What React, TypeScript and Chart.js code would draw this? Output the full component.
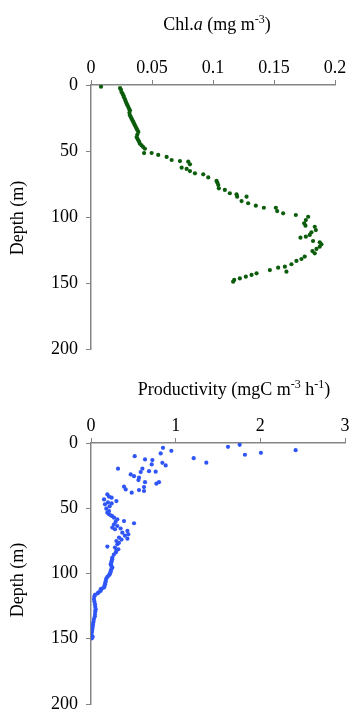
import React, { useEffect, useRef } from "react";
import { Chart, registerables } from "chart.js";

Chart.register(...registerables);

// ---------- Data: Chl.a profile ----------
const chlValues: number[] = [
  0.0082, 0.0238, 0.0245, 0.025, 0.0258, 0.0265, 0.027, 0.0279, 0.0285, 0.0292, 0.0299, 0.0306,
  0.0312, 0.0319, 0.0315, 0.0319, 0.0326, 0.0333, 0.034, 0.0347, 0.0353, 0.036, 0.0367, 0.0374,
  0.0381, 0.0388, 0.038, 0.0374, 0.038, 0.0388, 0.0395, 0.0401, 0.0415, 0.0428, 0.0442, 0.0435,
  0.0497, 0.0551, 0.062, 0.0661, 0.0729, 0.0797, 0.0811, 0.0743, 0.0784, 0.0811, 0.0852, 0.092,
  0.0961, 0.1029, 0.1036, 0.1043, 0.1048, 0.1097, 0.1138, 0.1193, 0.1198, 0.1275, 0.1234, 0.1288,
  0.1351, 0.1417, 0.1515, 0.1526, 0.1575, 0.1679, 0.178, 0.1761, 0.1747, 0.1758, 0.1834, 0.1843,
  0.1807, 0.1793, 0.1761, 0.1717, 0.182, 0.1875, 0.1889, 0.1875, 0.1848, 0.1815, 0.1834, 0.1752,
  0.1725, 0.1684, 0.1643, 0.1589, 0.1602, 0.1534, 0.1466, 0.1357, 0.1316, 0.1269, 0.122, 0.1174,
  0.1165,
];
const chlDepths: number[] = [
  1.3, 2.3, 3.5, 5.3, 6.5, 7.8, 9.2, 10.9, 12.5, 14.1, 15.4, 16.7,
  18, 19.2, 21, 23, 24.2, 25.5, 26.8, 28, 29.2, 30.5, 31.8, 33.1,
  34.3, 35.6, 37.5, 39.4, 40.6, 41.9, 43.2, 44.5, 45.8, 47, 48.3, 51.6,
  51.5, 53, 54.5, 56.8, 57.6, 58.1, 60.1, 62.6, 63.6, 65.2, 66.9, 67.7,
  70, 72.7, 74, 75.8, 78.3, 79.5, 82, 82.8, 84.6, 84.6, 87.9, 89.6,
  91.4, 93, 93, 95.5, 97.2, 98.5, 99.8, 102.3, 104.8, 106.6, 107.4, 109.9,
  111.6, 113.6, 114.9, 115.7, 118.2, 119.2, 120.7, 122.5, 124.2, 125.8, 127.5, 130,
  131.8, 133.3, 135.8, 137.6, 141.4, 138.4, 140.2, 142.7, 143.9, 145.2, 146.5, 147.7,
  149,
];

// ---------- Data: Productivity profile ----------
const prodValues: number[] = [
  0.949, 1.213, 1.362, 1.618, 1.756, 1.818, 2.007, 2.417,
  0.85, 0.823, 0.516, 0.638, 0.725, 0.717, 0.843, 0.882, 0.319, 0.607, 0.685, 0.764, 0.587, 0.469,
  0.508, 0.567, 0.56, 0.638, 0.803, 0.772, 0.39, 0.41, 0.626, 0.567, 0.626, 0.481,
  0.193, 0.213, 0.244, 0.154, 0.3, 0.244, 0.165, 0.181, 0.213, 0.193, 0.233, 0.272, 0.311, 0.39,
  0.508, 0.311, 0.252, 0.283, 0.43, 0.37, 0.441, 0.331, 0.43, 0.3, 0.311, 0.193, 0.283, 0.323,
  0.292, 0.252, 0.244, 0.233, 0.252, 0.233, 0.221, 0.193, 0.174, 0.165, 0.154, 0.115, 0.115, 0.076,
  0.047, 0.035, 0.047, 0.055, 0.047, 0.035, 0.024, 0.017, 0.008, 0.0, 0.01,
  0.3, 0.27, 0.25, 0.24, 0.24, 0.24, 0.23, 0.21, 0.18, 0.17, 0.16, 0.13, 0.09, 0.04, 0.04, 0.05,
  0.05, 0.045, 0.03, 0.02, 0.012, 0.005, 0.02,
  0.2, 0.22, 0.21, 0.25, 0.29, 0.27, 0.35, 0.4, 0.36, 0.33,
];
const prodDepths: number[] = [
  6.0, 11.6, 15.1, 2.9, 1.4, 9.0, 7.5, 5.5,
  3.7, 8.0, 10.1, 12.6, 13.1, 16.4, 15.2, 17.2, 19.7, 19.7, 21.6, 22.0, 22.3, 24.1,
  25.4, 26.6, 28.4, 30.0, 30.0, 31.2, 33.5, 35.6, 33.8, 36.1, 36.8, 38.1,
  39.4, 41.1, 41.9, 43.2, 44.5, 46.3, 47.0, 50.3, 52.1, 53.4, 55.4, 57.2, 58.5, 59.8,
  61.5, 63.6, 64.8, 66.1, 67.4, 68.7, 70.0, 72.5, 73.3, 75.1, 77.6, 79.4, 80.1, 81.4,
  83.9, 87.8, 90.4, 92.9, 95.4, 98.0, 100.5, 102.6, 105.7, 108.2, 110.7, 112.0, 113.3, 115.3,
  116.3, 119.6, 123.5, 127.3, 131.1, 134.9, 138.8, 142.6, 145.1, 147.7, 149.7,
  82.5, 85.5, 89, 91.5, 94, 96.7, 99.2, 101.5, 104, 107, 109.5, 111.5, 114.5, 117.5, 121.5, 125.5,
  129, 133, 137, 140.7, 144, 146.5, 148.5,
  45.5, 48.5, 54.5, 56, 60.5, 62.5, 65.5, 71, 74, 76.5,
];

// ---------- Tick labels ----------
const depthTicks: number[] = [0, 50, 100, 150, 200];
const depthTickLabels: string[] = ["0", "50", "100", "150", "200"];
const chlTicks: number[] = [0, 0.05, 0.1, 0.15, 0.2];
const chlTickLabels: string[] = ["0", "0.05", "0.1", "0.15", "0.2"];
const prodTicks: number[] = [0, 1, 2, 3];
const prodTickLabels: string[] = ["0", "1", "2", "3"];

const FONT = '"Liberation Serif", "Times New Roman", serif';

type Part = { t: string; italic?: boolean; sup?: boolean };

function titlePlugin(id: string, parts: Part[], cx: number, cy: number, yTitle: string, yx: number, yy: number) {
  return {
    id,
    afterDraw(chart: any) {
      const ctx: CanvasRenderingContext2D = chart.ctx;
      ctx.save();
      ctx.fillStyle = "#000";
      ctx.textBaseline = "alphabetic";
      const fontFor = (p: Part) => `${p.italic ? "italic " : ""}${p.sup ? 12 : 18}px ${FONT}`;
      let total = 0;
      const widths = parts.map((p) => {
        ctx.font = fontFor(p);
        const w = ctx.measureText(p.t).width;
        total += w;
        return w;
      });
      let x = cx - total / 2;
      const base = cy + 6;
      parts.forEach((p, i) => {
        ctx.font = fontFor(p);
        ctx.textAlign = "left";
        ctx.fillText(p.t, x, p.sup ? base - 7 : base);
        x += widths[i];
      });
      // y-axis title
      ctx.translate(yx, yy);
      ctx.rotate(-Math.PI / 2);
      ctx.font = `18px ${FONT}`;
      ctx.textAlign = "center";
      ctx.textBaseline = "middle";
      ctx.fillText(yTitle, 0, 0);
      ctx.restore();
    },
  };
}

function makeConfig(
  values: number[],
  depths: number[],
  color: string,
  xMax: number,
  xTicks: number[],
  xLabels: string[],
  xHeight: number,
  yWidth: number,
  padding: any,
  plugin: any
): any {
  const axisColor = "#858585";
  return {
    type: "scatter",
    data: {
      datasets: [
        {
          data: values.map((v, i) => ({ x: v, y: depths[i] })),
          backgroundColor: color,
          borderColor: color,
          borderWidth: 0,
          pointRadius: 2.1,
          pointHoverRadius: 2.1,
        },
      ],
    },
    options: {
      responsive: false,
      animation: false,
      devicePixelRatio: 1,
      layout: { padding },
      plugins: { legend: { display: false }, tooltip: { enabled: false }, title: { display: false } },
      scales: {
        x: {
          type: "linear",
          position: "top",
          min: 0,
          max: xMax,
          afterBuildTicks: (scale: any) => {
            scale.ticks = xTicks.map((v) => ({ value: v }));
          },
          afterFit: (scale: any) => {
            scale.height = xHeight;
          },
          ticks: {
            callback: (v: number) => {
              const i = xTicks.findIndex((t) => Math.abs(t - v) < 1e-9);
              return i >= 0 ? xLabels[i] : "";
            },
            font: { family: FONT, size: 18 },
            color: "#000",
            padding: 1,
            maxRotation: 0,
            autoSkip: false,
          },
          grid: { display: true, drawOnChartArea: false, drawTicks: true, tickLength: 5, color: axisColor, lineWidth: 1 },
          border: { display: true, color: axisColor, width: 1.5 },
        },
        y: {
          type: "linear",
          position: "left",
          reverse: true,
          min: 0,
          max: 200,
          afterBuildTicks: (scale: any) => {
            scale.ticks = depthTicks.map((v) => ({ value: v }));
          },
          afterFit: (scale: any) => {
            scale.width = yWidth;
          },
          ticks: {
            callback: (v: number) => {
              const i = depthTicks.findIndex((t) => Math.abs(t - v) < 1e-9);
              return i >= 0 ? depthTickLabels[i] : "";
            },
            font: { family: FONT, size: 18 },
            color: "#000",
            padding: 8,
            autoSkip: false,
          },
          grid: { display: true, drawOnChartArea: false, drawTicks: true, tickLength: 5, color: axisColor, lineWidth: 1 },
          border: { display: true, color: axisColor, width: 1.5 },
        },
      },
    },
    plugins: [plugin],
  };
}

export default function App() {
  const topRef = useRef<HTMLCanvasElement>(null);
  const botRef = useRef<HTMLCanvasElement>(null);

  useEffect(() => {
    const c1 = new Chart(
      topRef.current as HTMLCanvasElement,
      makeConfig(
        chlValues,
        chlDepths,
        "#0b5c0b",
        0.2,
        chlTicks,
        chlTickLabels,
        45,
        91,
        { top: 40, left: 0, right: 14, bottom: 31 },
        titlePlugin(
          "t1",
          [{ t: "Chl." }, { t: "a", italic: true }, { t: " (mg m" }, { t: "-3", sup: true }, { t: ")" }],
          217,
          24,
          "Depth (m)",
          18,
          218
        )
      )
    );
    const c2 = new Chart(
      botRef.current as HTMLCanvasElement,
      makeConfig(
        prodValues,
        prodDepths,
        "#2f55f7",
        3,
        prodTicks,
        prodTickLabels,
        38,
        91,
        { top: 40, left: 0, right: 15, bottom: 21 },
        titlePlugin(
          "t2",
          [{ t: "Productivity (mgC m" }, { t: "-3", sup: true }, { t: " h" }, { t: "-1", sup: true }, { t: ")" }],
          234,
          24,
          "Depth (m)",
          18,
          215
        )
      )
    );
    return () => {
      c1.destroy();
      c2.destroy();
    };
  }, []);

  return (
    <div
      style={{
        position: "absolute",
        left: 0,
        top: 0,
        width: 349,
        height: 711,
        overflow: "hidden",
        background: "#fff",
      }}
    >
      <canvas
        ref={topRef}
        width={349}
        height={380}
        style={{ position: "absolute", left: 0, top: 0, width: 349, height: 380 }}
      />
      <canvas
        ref={botRef}
        width={360}
        height={360}
        style={{ position: "absolute", left: 0, top: 365, width: 360, height: 360 }}
      />
    </div>
  );
}
